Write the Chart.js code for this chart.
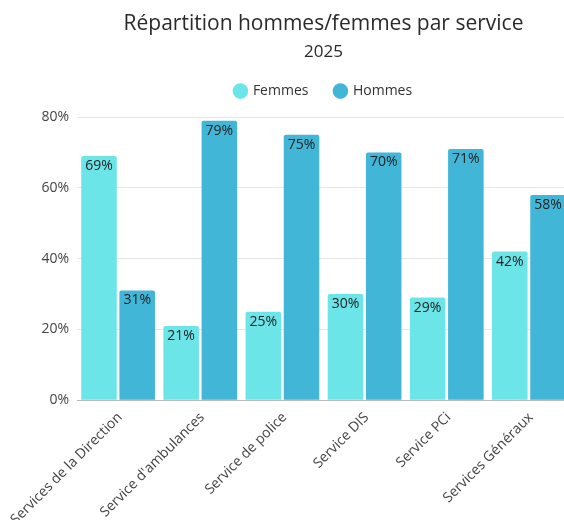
<!DOCTYPE html>
<html>
<head>
<meta charset="utf-8">
<script src="https://cdn.jsdelivr.net/npm/chart.js@4"></script>
<style>
  body { margin: 0; overflow: hidden; background: #fff; }
</style>
</head>
<body>
<canvas id="serviceChart" width="570" height="520"></canvas>
<script>
const services = ['Services de la Direction', "Service d'ambulances", 'Service de police', 'Service DIS', 'Service PCi', 'Services Généraux'];
const femmes = [69, 21, 25, 30, 29, 42];
const hommes = [31, 79, 75, 70, 71, 58];
const yTicks = [0, 20, 40, 60, 80];

const FONT = "'Open Sans', sans-serif";

// labels drawn inside the top of each bar
const barLabels = {
    id: 'barLabels',
    afterInit(chart) {
        // a bit more room under the legend
        const leg = chart.legend;
        const fit = leg.fit;
        leg.fit = function () { fit.call(this); this.height += 9; };
    },
    afterDatasetsDraw(chart) {
        const ctx = chart.ctx;
        ctx.save();
        ctx.font = "14px " + FONT;
        ctx.fillStyle = '#222';
        ctx.textAlign = 'center';
        ctx.textBaseline = 'middle';
        chart.data.datasets.forEach((ds, i) => {
            chart.getDatasetMeta(i).data.forEach((bar, j) => {
                ctx.fillText(ds.data[j] + '%', bar.x, bar.y + 10);
            });
        });
        ctx.restore();
    }
};

const ctx = document.getElementById('serviceChart').getContext('2d');
const myChart = new Chart(ctx, {
    type: 'bar',
    data: {
        labels: services,
        datasets: [
            { label: 'Femmes', data: femmes, backgroundColor: '#6be5e8', borderRadius: { topLeft: 2, topRight: 2 }, borderSkipped: 'bottom' },
            { label: 'Hommes', data: hommes, backgroundColor: '#41b6d6', borderRadius: { topLeft: 2, topRight: 2 }, borderSkipped: 'bottom' }
        ]
    },
    options: {
        responsive: false,
        animation: false,
        categoryPercentage: 0.93,
        barPercentage: 0.93,
        layout: { padding: { left: 0, right: 0, top: 0, bottom: -9 } },
        scales: {
            x: {
                grid: { display: false },
                border: { color: '#bbb' },
                ticks: { color: '#444', font: { family: FONT, size: 14 }, minRotation: 45, maxRotation: 45, padding: 1, labelOffset: 2 }
            },
            y: {
                min: 0, max: 80,
                afterBuildTicks: (axis) => { axis.ticks = yTicks.map(v => ({ value: v })); },
                afterFit: (axis) => { axis.width = 77; },
                grid: { color: '#e6e6e6', drawTicks: false },
                border: { display: false },
                ticks: { color: '#444', font: { family: FONT, size: 14 }, padding: 8, callback: (v) => v + '%' }
            }
        },
        plugins: {
            title: {
                display: true, text: 'Répartition hommes/femmes par service', fullSize: false,
                color: '#2a2a2a', font: { family: FONT, size: 21, weight: 'normal' },
                padding: { top: 11.4, bottom: 11.7 }
            },
            subtitle: {
                display: true, text: '2025', fullSize: false,
                color: '#2a2a2a', font: { family: FONT, size: 17, weight: 'normal', lineHeight: 0.5 },
                padding: { top: 0, bottom: 0.8 }
            },
            legend: {
                position: 'top', fullSize: false,
                labels: { usePointStyle: true, pointStyle: 'circle', boxWidth: 11, boxHeight: 11, padding: 26.5, color: '#333', font: { family: FONT, size: 14 } }
            },
            tooltip: { enabled: false }
        }
    },
    plugins: [barLabels]
});
</script>
</body>
</html>
